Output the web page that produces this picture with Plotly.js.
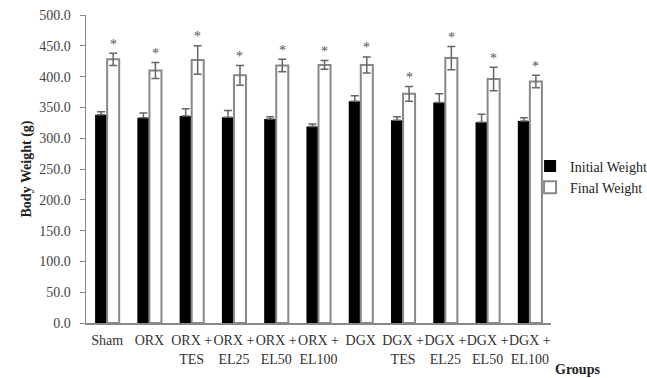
<!DOCTYPE html>
<html>
<head>
<meta charset="utf-8">
<script src="https://cdn.plot.ly/plotly-3.0.1.min.js"></script>
<style>html,body{margin:0;padding:0;background:#fff;}#chart{width:647px;height:378px;}</style>
</head>
<body>
<div id="chart"></div>
<script>
const categories = ["Sham","ORX","ORX + TES","ORX + EL25","ORX + EL50","ORX + EL100","DGX","DGX + TES","DGX + EL25","DGX + EL50","DGX + EL100"];
const tickLabels = ["Sham","ORX","ORX +<br>TES","ORX +<br>EL25","ORX +<br>EL50","ORX +<br>EL100","DGX","DGX +<br>TES","DGX +<br>EL25","DGX +<br>EL50","DGX +<br>EL100"];
const initialWeight = [338, 333, 336, 334, 331, 319, 360, 329, 358, 326, 328];
const initialErr    = [5, 8, 12, 11, 4, 4, 9, 6, 14, 13, 5];
const finalWeight   = [428, 410, 427, 402, 418, 419, 419, 372, 430, 396, 392];
const finalErr      = [10, 13, 23, 16, 10, 7, 13, 12, 19, 19, 10];
const sigMark = ["*","*","*","*","*","*","*","*","*","*","*"];

const serif = "Liberation Serif, Times New Roman, serif";

const traces = [
  {
    type: "bar", name: "Initial Weight", x: categories, y: initialWeight,
    marker: {color: "#000000", line: {width: 0}},
    error_y: {type: "data", array: initialErr, symmetric: false, arrayminus: initialErr.map(() => 0),
              color: "#666666", thickness: 1.5, width: 4}
  },
  {
    type: "bar", name: "Final Weight", x: categories, y: finalWeight,
    marker: {color: "#ffffff", line: {width: 2, color: "#888888"}},
    error_y: {type: "data", array: finalErr, color: "#666666", thickness: 1.5, width: 4}
  }
];

const annotations = categories.map((c, i) => ({
  x: c, y: finalWeight[i] + finalErr[i], xref: "x", yref: "y",
  text: sigMark[i], showarrow: false, xshift: 6, yshift: 9,
  yanchor: "middle", font: {family: serif, size: 14, color: "#555"}
}));
annotations.push({
  xref: "paper", yref: "paper", x: 1.058, y: -0.15, xanchor: "center", yanchor: "middle",
  text: "<b>Groups</b>", showarrow: false, font: {family: serif, size: 14, color: "#222"}
});

const layout = {
  width: 647, height: 378,
  margin: {l: 86, r: 96, t: 15, b: 55, autoexpand: false},
  paper_bgcolor: "#fff", plot_bgcolor: "#fff",
  barmode: "group", bargap: 0.43, bargroupgap: 0,
  font: {family: serif, size: 14, color: "#333"},
  xaxis: {
    type: "category", tickvals: categories, ticktext: tickLabels,
    showline: true, linecolor: "#888", linewidth: 1.5, ticks: "", showgrid: false,
    tickfont: {family: serif, size: 14, color: "#333"}, tickangle: 0, ticklabelstandoff: 4
  },
  yaxis: {
    range: [0, 500], dtick: 50, tickformat: ".1f",
    showline: true, linecolor: "#888", linewidth: 1.5, ticks: "outside", ticklen: 5, tickcolor: "#888",
    showgrid: false, zeroline: false, ticklabelstandoff: 6,
    tickfont: {family: serif, size: 14, color: "#444"},
    title: {text: "<b>Body Weight (g)</b>", font: {family: serif, size: 14, color: "#222"}, standoff: 4}
  },
  legend: {
    x: 0.955, xanchor: "left", y: 0.56, yanchor: "top",
    font: {family: serif, size: 14, color: "#222"}, bgcolor: "rgba(0,0,0,0)"
  },
  annotations: annotations
};

Plotly.newPlot("chart", traces, layout, {displayModeBar: false, staticPlot: true});
</script>
</body>
</html>
